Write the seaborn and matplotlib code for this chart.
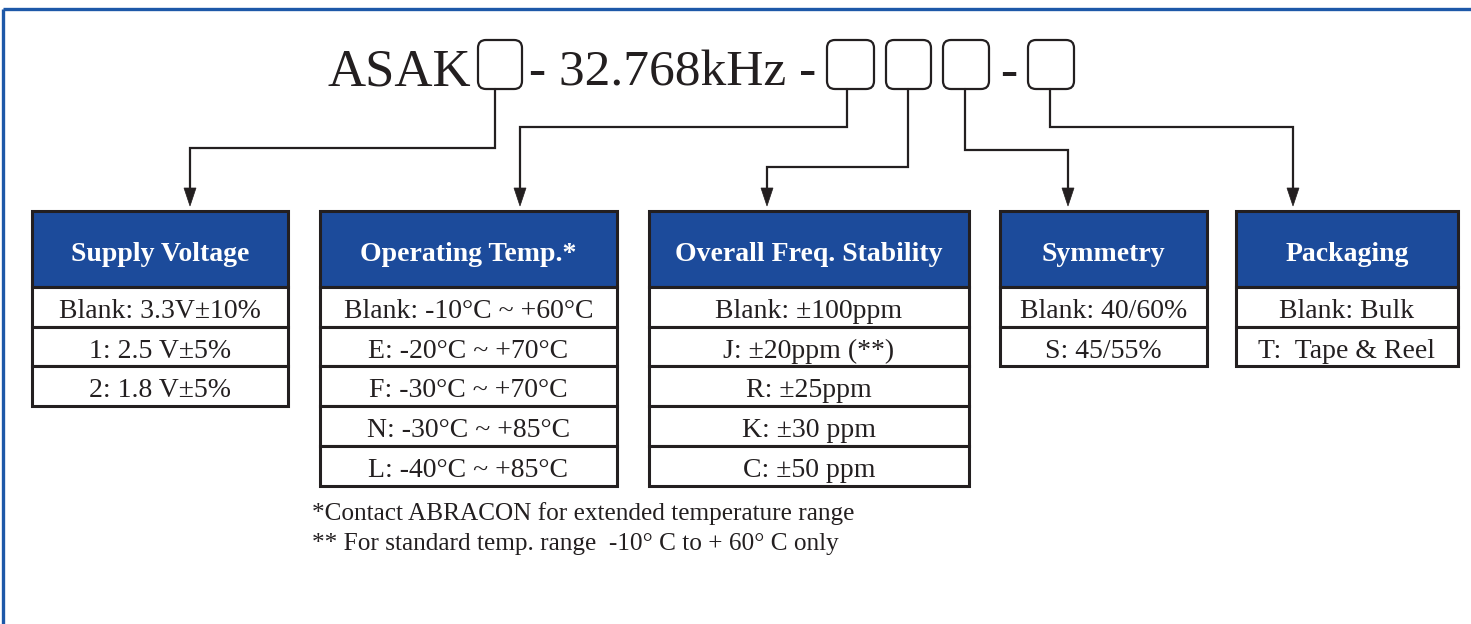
import matplotlib
matplotlib.use("Agg")
import matplotlib.pyplot as plt
import seaborn as sns
from matplotlib.patches import Rectangle, FancyBboxPatch, Polygon

sns.set_theme(style="white")
plt.rcParams['font.family'] = ['Liberation Serif', 'DejaVu Serif']

# ---------------- data ----------------
part_prefix = "ASAK"
part_middle = "- 32.768kHz -"
part_dash = "-"

headers = ["Supply Voltage", "Operating Temp.*", "Overall Freq. Stability",
           "Symmetry", "Packaging"]
supply_voltage = ["Blank: 3.3V±10%", "1: 2.5 V±5%", "2: 1.8 V±5%"]
operating_temp = ["Blank: -10°C ~ +60°C", "E: -20°C ~ +70°C", "F: -30°C ~ +70°C",
                  "N: -30°C ~ +85°C", "L: -40°C ~ +85°C"]
freq_stability = ["Blank: ±100ppm", "J: ±20ppm (**)", "R: ±25ppm",
                  "K: ±30 ppm", "C: ±50 ppm"]
symmetry = ["Blank: 40/60%", "S: 45/55%"]
packaging = ["Blank: Bulk", "T:  Tape & Reel"]
footnotes = ["*Contact ABRACON for extended temperature range",
             "** For standard temp. range  -10° C to + 60° C only"]

options = [supply_voltage, operating_temp, freq_stability, symmetry, packaging]

# ---------------- layout ----------------
W, H = 1471, 624
BLUE = "#1c4b9b"
DARK = "#231f20"
FRAME = "#1d58a8"

table_x = [(32, 288), (320, 617), (649, 969), (1000, 1207), (1236, 1458)]
table_top, header_bottom, row_h = 211, 287, 39.7

slot_boxes = [(478, 522), (827, 874), (886, 931), (943, 989), (1028, 1074)]
slot_top, slot_bot = 40, 89
stem_x = [495, 847, 908, 965, 1050]
elbow_y = [148, 127, 167, 150, 127]
arrow_x = [190, 520, 767, 1068, 1293]
arrow_tip = 206

fig = plt.figure(figsize=(W / 100, H / 100), dpi=100)
ax = fig.add_axes([0, 0, 1, 1])
ax.set_xlim(0, W)
ax.set_ylim(H, 0)
ax.axis("off")

# outer frame (top and left)
ax.plot([3, W], [9, 9], color=FRAME, lw=2.4, solid_capstyle="butt")
ax.plot([3, 3], [9, H], color=FRAME, lw=2.4, solid_capstyle="butt")

# title
ax.text(471, 86, part_prefix, fontsize=38, ha="right", va="baseline", color=DARK)
ax.text(673, 86, part_middle, fontsize=37, ha="center", va="baseline", color=DARK)
ax.text(1009, 86, part_dash, fontsize=37, ha="center", va="baseline", color=DARK)

for (x0, x1) in slot_boxes:
    ax.add_patch(FancyBboxPatch((x0, slot_top), x1 - x0, slot_bot - slot_top,
                                boxstyle="round,pad=0,rounding_size=8",
                                fc="white", ec=DARK, lw=1.6))

# connectors
for (x0, x1), sx, ey, axx in zip(slot_boxes, stem_x, elbow_y, arrow_x):
    ax.plot([sx, sx, axx, axx], [slot_bot, ey, ey, arrow_tip - 16],
            color=DARK, lw=1.6, solid_joinstyle="miter")
    ax.add_patch(Polygon([[axx - 6, arrow_tip - 18], [axx + 6, arrow_tip - 18],
                          [axx, arrow_tip]], closed=True, fc=DARK, ec=DARK, lw=0.5))

# tables
for (x0, x1), head, rows in zip(table_x, headers, options):
    w = x1 - x0
    cx = (x0 + x1) / 2
    ax.add_patch(Rectangle((x0, table_top), w, header_bottom - table_top,
                           fc=BLUE, ec=DARK, lw=2.2))
    ax.text(cx, (table_top + header_bottom) / 2 + 12, head, fontsize=20,
            fontweight="bold", color="white", ha="center", va="baseline")
    for i, r in enumerate(rows):
        y0 = header_bottom + i * row_h
        ax.add_patch(Rectangle((x0, y0), w, row_h, fc="white", ec=DARK, lw=2.2))
        ax.text(cx, y0 + row_h / 2 + 11, r, fontsize=20, color=DARK,
                ha="center", va="baseline")

# footnotes
for i, t in enumerate(footnotes):
    ax.text(312, 520 + i * 30, t, fontsize=18.2, color=DARK, ha="left", va="baseline")

fig.savefig("out.png", dpi=100, facecolor="white")
